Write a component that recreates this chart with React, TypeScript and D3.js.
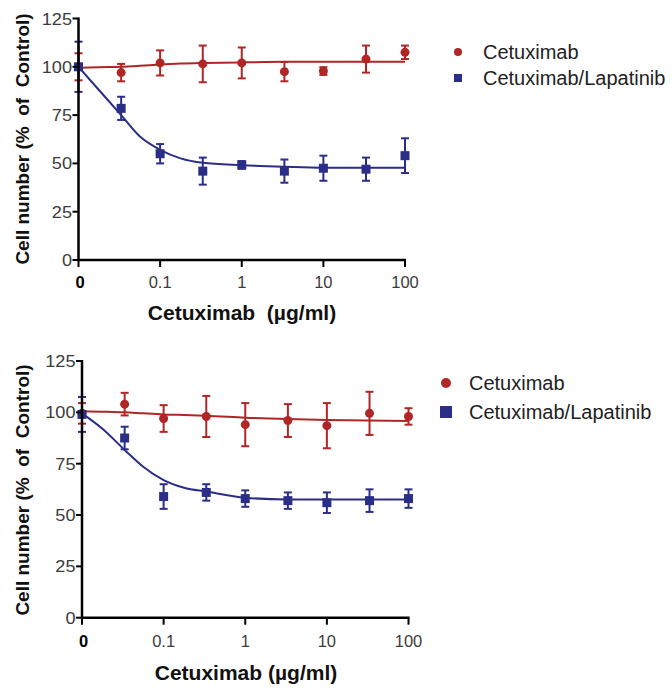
import React from "react";
import * as d3 from "d3";

// ---- data ----
const doseLabels = ["0", "0.1", "1", "10", "100"];
const doseTicks = [0, 0.1, 1, 10, 100];
const doses = [0, 0.0333, 0.1, 0.333, 1, 3.33, 10, 33.3, 100];
const zeroDoseAt = 0.01;
const yTicks = [0, 25, 50, 75, 100, 125];

const cetA = [100, 97, 102, 101.5, 102, 97.5, 97.8, 104, 107.5];
const cetAerr = [7, 4.5, 6.5, 9.5, 8, 5, 2, 7, 3.5];
const lapA = [100, 78.5, 55, 46, 49.2, 46, 47.5, 47, 54];
const lapAerr = [13, 6, 5, 7, 2, 6, 6.5, 6, 9];

const cetB = [99.5, 104, 97, 98, 94, 96, 93.5, 99.5, 98];
const cetBerr = [5, 5.5, 6.5, 10, 10.5, 8, 11, 10.5, 4];
const lapB = [99, 87.5, 59, 61, 58, 57, 56, 57, 58];
const lapBerr = [8.5, 5.5, 6, 4, 4, 4, 5, 5.5, 4.5];

// fitted curves
const fitX = [0.01, 0.0178, 0.0333, 0.0562, 0.1, 0.178, 0.333, 1, 3.33, 10, 100];
const fitCetA = [99.5, 99.8, 100, 100.5, 101.2, 101.7, 102, 102.3, 102.6, 102.6, 102.6];
const fitLapA = [100, 88, 75, 64, 57, 52.6, 50.3, 49.1, 48.3, 47.8, 47.8];
const fitCetB = [100.5, 100.3, 100, 99.5, 99, 98.7, 98.4, 97.4, 96.7, 96.3, 95.8];
const fitLapB = [99.5, 92, 81.7, 73.5, 67, 63.3, 61.4, 58.4, 57.6, 57.6, 57.6];

const seriesNames = ["Cetuximab", "Cetuximab/Lapatinib"];
const xTitles = ["Cetuximab  (µg/ml)", "Cetuximab (µg/ml)"];
const yTitle = "Cell number (%  of  Control)";
const RED = "#b02626";
const BLUE = "#2b2e86";
const FONT = "Arial, 'Liberation Sans', sans-serif";

type PanelProps = {
  x0: number; x1: number; yTop: number; yBot: number;
  cet: number[]; cetErr: number[]; lap: number[]; lapErr: number[];
  fitCet: number[]; fitLap: number[];
  xTitle: string;
  titleX: number; titleY: number; yTitleY: number;
  tickBase: number;
  legX: number; legY1: number; legY2: number; legTextX: number; legR: number; legSq: number;
};

function Panel(p: PanelProps) {
  const x = d3.scaleLog().domain([zeroDoseAt, 100]).range([p.x0, p.x1]);
  const y = d3.scaleLinear().domain([0, 125]).range([p.yBot, p.yTop]);
  const px = (d: number) => x(d === 0 ? zeroDoseAt : d);
  const line = d3
    .line<number>()
    .x((_, i) => x(fitX[i]))
    .y((v) => y(v))
    .curve(d3.curveMonotoneX);
  const cap = 4;
  const errBars = (vals: number[], errs: number[], color: string) =>
    vals.map((v, i) => (
      <g key={i} stroke={color} strokeWidth={2}>
        <line x1={px(doses[i])} x2={px(doses[i])} y1={y(v - errs[i])} y2={y(v + errs[i])} />
        <line x1={px(doses[i]) - cap} x2={px(doses[i]) + cap} y1={y(v + errs[i])} y2={y(v + errs[i])} />
        <line x1={px(doses[i]) - cap} x2={px(doses[i]) + cap} y1={y(v - errs[i])} y2={y(v - errs[i])} />
      </g>
    ));
  return (
    <g fontFamily={FONT}>
      {/* fit lines */}
      <path d={line(p.fitCet) || ""} fill="none" stroke={RED} strokeWidth={2} />
      <path d={line(p.fitLap) || ""} fill="none" stroke={BLUE} strokeWidth={2} />
      {errBars(p.cet, p.cetErr, RED)}
      {errBars(p.lap, p.lapErr, BLUE)}
      {p.cet.map((v, i) => (
        <circle key={"c" + i} cx={px(doses[i])} cy={y(v)} r={4.5} fill={RED} />
      ))}
      {p.lap.map((v, i) => (
        <rect key={"s" + i} x={px(doses[i]) - 4.5} y={y(v) - 4.5} width={9} height={9} fill={BLUE} />
      ))}
      {/* axes */}
      <line x1={p.x0} x2={p.x0} y1={p.yTop - 1} y2={p.yBot + 1} stroke="#000" strokeWidth={2.5} />
      <line x1={p.x0 - 1} x2={p.x1 + 1} y1={p.yBot} y2={p.yBot} stroke="#000" strokeWidth={2.5} />
      {yTicks.map((t) => (
        <g key={"yt" + t}>
          <line x1={p.x0 - 6} x2={p.x0} y1={y(t)} y2={y(t)} stroke="#000" strokeWidth={2} />
          <text
            transform={`translate(${p.x0 - 6.5},${y(t) + 6}) scale(1.1,1)`}
            textAnchor="end"
            fontSize={16.5}
            fill="#3c3c3c"
          >
            {t}
          </text>
        </g>
      ))}
      {doseTicks.map((t, i) => (
        <g key={"xt" + i}>
          <line x1={px(t)} x2={px(t)} y1={p.yBot} y2={p.yBot + 7} stroke="#000" strokeWidth={2} />
          <text
            x={px(t) + (t === 0 ? 1.5 : 0)}
            y={p.tickBase}
            textAnchor="middle"
            fontSize={16.5}
            fontWeight={t === 0 ? "bold" : "normal"}
            fill={t === 0 ? "#000" : "#3c3c3c"}
          >
            {doseLabels[i]}
          </text>
        </g>
      ))}
      <text
        x={p.titleX}
        y={p.titleY}
        textAnchor="middle"
        fontSize={21}
        fontWeight="bold"
        fill="#111"
        style={{ whiteSpace: "pre" }}
      >
        {p.xTitle}
      </text>
      <text
        transform={`translate(29,${p.yTitleY}) rotate(-90)`}
        textAnchor="middle"
        fontSize={19}
        fontWeight="bold"
        fill="#111"
        style={{ whiteSpace: "pre" }}
      >
        {yTitle}
      </text>
      {/* legend */}
      <circle cx={p.legX} cy={p.legY1} r={p.legR} fill={RED} />
      <rect x={p.legX - p.legSq / 2} y={p.legY2 - p.legSq / 2} width={p.legSq} height={p.legSq} fill={BLUE} />
      <text x={p.legTextX} y={p.legY1 + 7} fontSize={20} fill="#222">
        {seriesNames[0]}
      </text>
      <text x={p.legTextX} y={p.legY2 + 7} fontSize={20} fill="#222">
        {seriesNames[1]}
      </text>
    </g>
  );
}

export default function App() {
  return (
    <svg
      width={672}
      height={690}
      style={{ position: "absolute", left: 0, top: 0, background: "#fff" }}
    >
      <rect width={672} height={690} fill="#fff" />
      <Panel
        x0={78.5} x1={405} yTop={18.5} yBot={260}
        cet={cetA} cetErr={cetAerr} lap={lapA} lapErr={lapAerr}
        fitCet={fitCetA} fitLap={fitLapA}
        xTitle={xTitles[0]}
        titleX={242} titleY={320} yTitleY={139} tickBase={288}
        legX={458} legY1={52} legY2={78} legTextX={483} legR={4} legSq={8}
      />
      <Panel
        x0={82} x1={408.5} yTop={361} yBot={617.7}
        cet={cetB} cetErr={cetBerr} lap={lapB} lapErr={lapBerr}
        fitCet={fitCetB} fitLap={fitLapB}
        xTitle={xTitles[1]}
        titleX={246} titleY={680} yTitleY={490} tickBase={647}
        legX={446} legY1={383} legY2={412} legTextX={469} legR={5} legSq={12}
      />
    </svg>
  );
}
